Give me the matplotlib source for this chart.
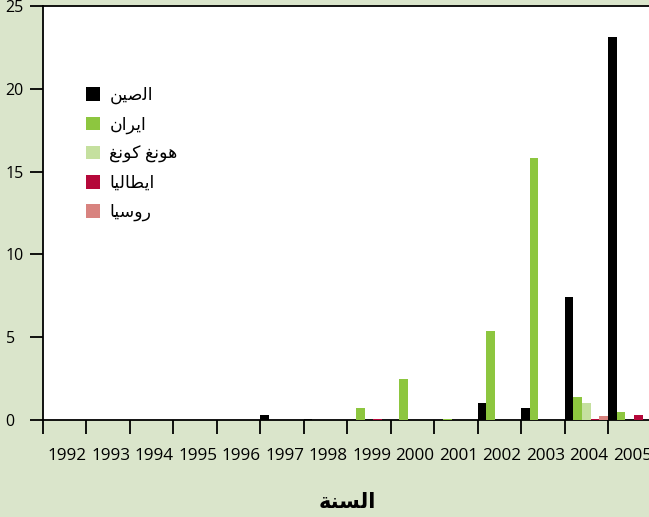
import numpy as np
import matplotlib
matplotlib.use("Agg")
import matplotlib.pyplot as plt

plt.rcParams['font.family'] = ['Open Sans', 'DejaVu Sans']

years = ['1992', '1993', '1994', '1995', '1996', '1997', '1998',
         '1999', '2000', '2001', '2002', '2003', '2004', '2005']

# arabic names, pre-shaped (presentation forms, visual order)
china_name = "\uFEE6\uFEF4\uFEBB\uFEDF\uFE8D"            # الصين
iran_name = "\uFEE5\uFE8D\uFEAE\uFEF3\uFE8D"             # ايران
hk_name = "\uFECE\uFEE7\uFEEE\uFEDB \uFECE\uFEE7\uFEEE\uFEEB"  # هونغ كونغ
italy_name = "\uFE8E\uFEF4\uFEDF\uFE8E\uFEC4\uFEF3\uFE8D"  # ايطاليا
russia_name = "\uFE8E\uFEF4\uFEB3\uFEED\uFEAD"           # روسيا
xlabel = "\uFE94\uFEE8\uFEB4\uFEDF\uFE8D"                # السنة

china  = [0, 0, 0, 0, 0, 0.3, 0.05, 0, 0, 0, 1.0, 0.7, 7.45, 23.1]
iran   = [0, 0, 0, 0, 0, 0, 0, 0.75, 2.5, 0.05, 5.4, 15.8, 1.4, 0.5]
hk     = [0, 0, 0, 0, 0, 0, 0, 0, 0, 0, 0, 0, 1.05, 0]
italy  = [0, 0, 0, 0, 0, 0, 0, 0.05, 0, 0, 0, 0, 0.08, 0.32]
russia = [0, 0, 0, 0, 0, 0, 0, 0, 0, 0, 0, 0, 0.24, 0]

series = [(china, china_name, '#000000'),
          (iran, iran_name, '#8dc63f'),
          (hk, hk_name, '#c5e09f'),
          (italy, italy_name, '#b5083a'),
          (russia, russia_name, '#d8837f')]

bg = '#dae5cb'
fig = plt.figure(figsize=(6.49, 5.17), dpi=100, facecolor=bg)
ax = fig.add_axes([43 / 649, 97 / 517, 608.5 / 649, 414 / 517])
ax.set_facecolor('white')

x = np.arange(len(years))
w = 0.2
handles = []
for j, (vals, name, col) in enumerate(series):
    b = ax.bar(x + j * w, vals, w, align='edge', color=col, label=name, zorder=3)
    handles.append(b)

ax.set_xlim(0, len(years))
ax.set_ylim(0, 25)

for s in ['top', 'left', 'bottom']:
    ax.spines[s].set_linewidth(1.3)
ax.spines['right'].set_visible(False)

ax.set_yticks([0, 5, 10, 15, 20, 25])
ax.tick_params(axis='y', length=9.4, width=1.3, pad=17.5, labelsize=11.5)
for lab in ax.get_yticklabels():
    lab.set_horizontalalignment('left')

ax.set_xticks(np.arange(len(years) + 1))
ax.set_xticklabels([])
ax.set_xticks(x + 0.56, minor=True)
ax.set_xticklabels(years, minor=True)
ax.tick_params(axis='x', which='major', length=10, width=1.3)
ax.tick_params(axis='x', which='minor', length=0, pad=20, labelsize=12.3)

ax.set_xlabel(xlabel, fontsize=15, fontweight='bold', labelpad=20)

ax.legend(handles=handles, loc='upper left', bbox_to_anchor=(86 / 649, 1 - 87 / 517),
          bbox_transform=fig.transFigure, frameon=False, fontsize=12.5,
          handlelength=0.8, handleheight=0.8, handletextpad=0.55,
          labelspacing=0.7, borderpad=0, borderaxespad=0)

fig.savefig('out.png', dpi=100, facecolor=bg)
